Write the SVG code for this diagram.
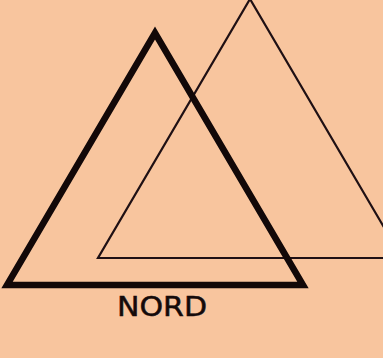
<svg xmlns="http://www.w3.org/2000/svg" width="383" height="358" viewBox="0 0 383 358">
<style>
.bg{fill:#f8c59e}
.thin{fill:none;stroke:#1f1014;stroke-width:2.2;stroke-linejoin:miter}
.thick{fill:none;stroke:#120808;stroke-width:6.5;stroke-linejoin:miter}
.lbl{font-family:"DejaVu Sans",sans-serif;font-size:27px;fill:#140a0a;stroke:#140a0a;stroke-width:0.5}
</style>
<rect class="bg" x="0" y="0" width="383" height="358"/>
<g id="triangle-thin">
<polygon class="thin" points="250,-1 98,258 402,258"/>
</g>
<g id="triangle-thick">
<polygon class="thick" points="155,33 7,285 303,285"/>
</g>
<g id="connectors"></g>
<g id="label">
<text class="lbl" x="117" y="316" textLength="90" lengthAdjust="spacingAndGlyphs">NORD</text>
</g>
</svg>
